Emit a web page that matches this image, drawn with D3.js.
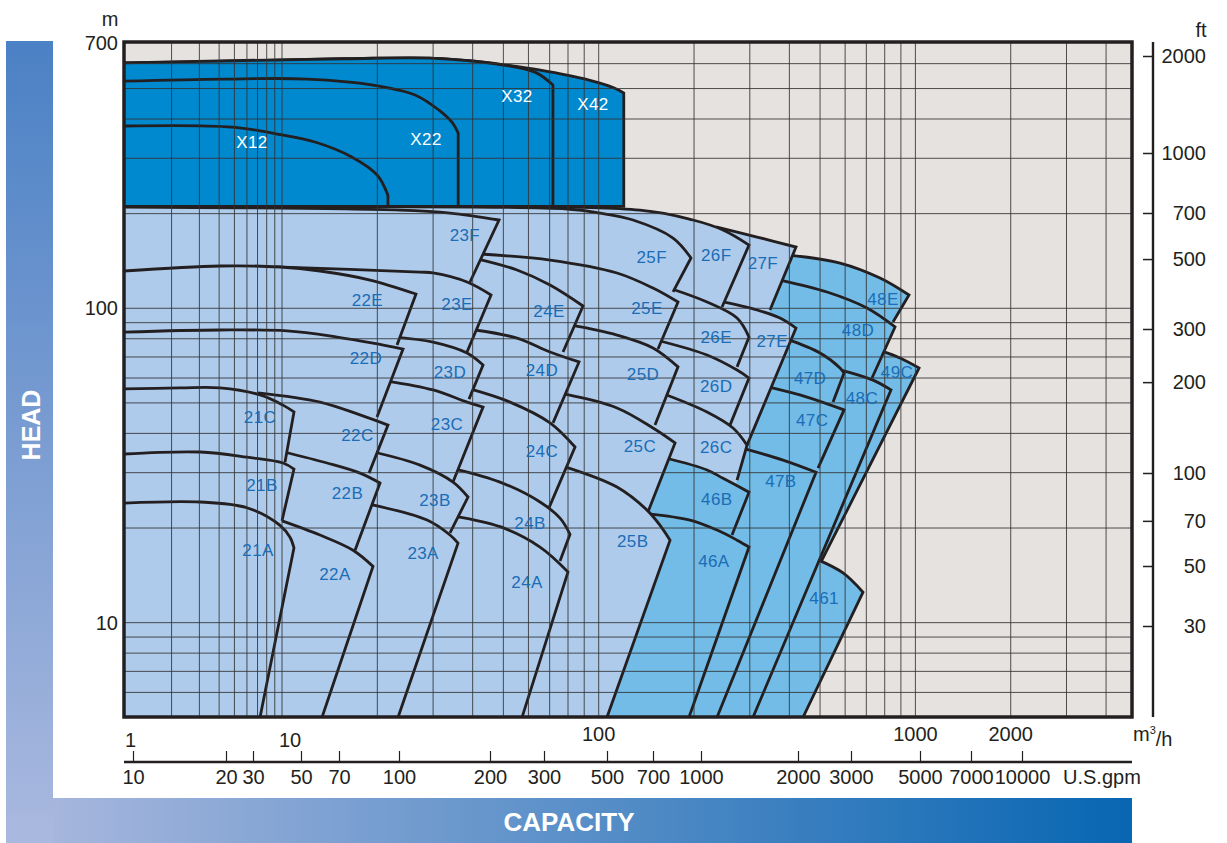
<!DOCTYPE html>
<html>
<head>
<meta charset="utf-8">
<script src="https://cdn.jsdelivr.net/npm/d3@7"></script>
<style>
  body { margin: 0; background: #fff; }
  svg text { font-family: "Liberation Sans", Arial, sans-serif; }
</style>
</head>
<body>
<div id="chart"></div>
<script>
// pump range chart: capacity (m3/h) against head (m), both log
// every region = top curve [Q,H] from left to its corner, then a straight edge to "end"

const seriesX = [
  {id: "X42", top: [[1,603],[5.42,612],[15.7,622],[30.4,624],[40.1,612],[51.0,594],[64.8,573],[93.2,532],[112,502],[120,484]], end: [120,211]},
  {id: "X32", top: [[1,603],[15.7,622],[30.4,624],[47.8,598],[62.9,564],[71.7,513]], end: [71.7,211]},
  {id: "X22", top: [[1,528],[4.30,536],[12.0,536],[19.4,513],[26.3,477],[31.3,427],[34.4,391],[36.0,361]], end: [36.0,211]},
  {id: "X12", top: [[1,380],[4.83,377],[10,356],[12.7,338],[16.6,303],[20.0,265],[21.6,229]], end: [21.6,211]}
];

const fam21 = [
  {id: "21C", top: [[1,55.4],[2.26,55.8],[4.05,55.8],[7.26,53.0],[10.07,49.2],[10.91,46.8]], end: [10.22,32.4]},
  {id: "21B", top: [[1,34.4],[3.03,34.9],[6.00,33.6],[10.07,32.2],[10.91,30.8]], end: [10.0,21.1]},
  {id: "21A", top: [[1,24.0],[3.03,24.2],[6.00,23.2],[9.71,20.4],[10.6,18.7],[10.91,17.3]], end: [7.26,5]}
];
const fam22 = [
  {id: "22E", top: [[1,131.4],[4.05,136.3],[9.71,135.3],[13.18,131.4],[18.97,123.0],[26.49,111.0]], end: [23.08,76.4]},
  {id: "22D", top: [[1,84.0],[4.05,85.3],[10.37,84.7],[14.92,81.0],[19.38,77.5],[24.11,74.2]], end: [19.95,45.1]},
  {id: "22C", top: [[7.05,53.8],[13.18,50.3],[17.64,45.8],[21.61,42.5]], end: [18.83,29.9]},
  {id: "22B", top: [[10.15,34.9],[13.87,32.2],[17.64,29.9],[20.39,27.8]], end: [17.01,17.0]},
  {id: "22A", top: [[9.71,21.2],[13.18,19.0],[16.76,17.0],[19.38,15.1]], end: [13.38,5]}
];
const fam23 = [
  {id: "23F", top: [[1,209.9],[23.59,205.3],[33.92,200.9],[48.44,190.9]], end: [39.24,121.2]},
  {id: "23E", top: [[9.16,135.3],[27.28,130.4],[29.99,129.5],[38.39,121.2],[45.71,110.2]], end: [38.39,72.6]},
  {id: "23D", top: [[22.74,81.0],[29.99,78.1],[38.39,72.1],[43.13,66.0]], end: [38.95,51.4]},
  {id: "23C", top: [[21.46,58.7],[29.99,55.0],[38.39,50.3],[43.13,48.5]], end: [34.67,28.0]},
  {id: "23B", top: [[19.52,34.9],[27.28,31.7],[34.67,28.0],[38.67,25.1]], end: [33.92,19.3]},
  {id: "23A", top: [[18.97,23.8],[28.71,21.2],[33.92,19.0],[35.96,17.9]], end: [23.25,5]}
];
const fam24 = [
  {id: "24E", top: [[41.59,143.4],[55.23,132.4],[70.19,118.6],[89.22,101.7]], end: [77.16,72.6]},
  {id: "24D", top: [[40.69,85.3],[55.23,80.4],[70.19,72.6],[86.67,67.5]], end: [71.74,43.2]},
  {id: "24C", top: [[39.24,55.4],[52.48,50.3],[70.19,43.2],[84.19,36.2]], end: [69.18,22.8]},
  {id: "24B", top: [[35.18,30.8],[48.79,28.0],[65.27,24.2],[75.49,21.5],[81.18,19.1]], end: [75.49,15.7]},
  {id: "24A", top: [[35.18,21.8],[48.79,20.2],[65.27,17.4],[80.01,14.5]], end: [57.27,5]}
];
const fam25 = [
  {id: "25F", top: [[1,209.9],[79.43,206.9],[100.9,200.9],[128.3,190.9],[171.7,167.3],[195.6,144.5]], end: [171.7,112.7]},
  {id: "25E", top: [[42.2,148.8],[70.19,142.4],[114.2,129.5],[148.4,116.0],[178.0,104.7]], end: [153.9,74.2]},
  {id: "25D", top: [[81.18,88.5],[114.2,82.2],[148.4,74.8],[178.0,65.1]], end: [150.6,42.5]},
  {id: "25C", top: [[77.72,53.4],[114.2,48.2],[148.4,41.6],[174.2,37.3]], end: [143.1,22.5]},
  {id: "25B", top: [[78.29,31.3],[114.2,27.0],[142.1,22.8],[156.2,20.4],[168.0,18.3]], end: [106.2,5]}
];
const fam26 = [
  {id: "26F", top: [[1,211.4],[135.0,205.3],[198.5,190.9],[246.9,177.4],[298.3,158.9]], end: [245.2,100.9]},
  {id: "26E", top: [[170.4,115.2],[219.8,104.7],[273.4,93.1],[298.3,81.0]], end: [273.4,65.1]},
  {id: "26D", top: [[156.2,78.7],[219.8,71.0],[273.4,63.6],[298.3,60.0]], end: [259.8,42.5]},
  {id: "26C", top: [[160.8,53.4],[219.8,46.8],[265.5,41.6],[294.0,36.7]], end: [273.4,28.4]}
];
const fam27 = [
  {id: "27F", top: [[234.7,181.4],[316.2,168.5],[419.8,156.6]], end: [347.5,98.74]},
  {id: "27E", top: [[239.9,105.5],[316.2,98.74],[373.7,93.1],[419.8,86.5]], end: [294.0,36.7]}
];
const fam46 = [
  {id: "46B", top: [[163.2,33.4],[219.8,30.6],[246.9,28.8],[298.3,26.0]], end: [263.6,19.0]},
  {id: "46A", top: [[143.1,22.2],[194.2,21.2],[236.4,19.7],[273.4,18.3],[298.3,17.4]], end: [192.8,5]}
];
const fam47 = [
  {id: "47D", top: [[393.2,79.8],[499.9,72.1],[578.1,64.6],[595.2,62.2]], end: [549.5,50.3]},
  {id: "47C", top: [[342.5,56.2],[454.8,52.2],[595.2,47.5]], end: [492.7,31.0]},
  {id: "47B", top: [[289.7,35.7],[381.9,32.9],[485.6,30.1]], end: [236.4,5]}
];
const fam48 = [
  {id: "48E", top: [[399.0,147.7],[578.1,139.3],[773.2,124.8],[954.6,110.2]], end: [849.8,90.4]},
  {id: "48D", top: [[373.7,123.0],[526.0,112.7],[703.5,100.2],[862.5,87.2]], end: [729.5,60.0]},
  {id: "48C", top: [[582.4,63.6],[734.9,59.1],[837.5,55.0]], end: [307.1,5]}
];
const fam49 = [
  {id: "49C", top: [[784.5,73.1],[894.3,69.5],[1027,64.6]], end: [503.5,15.6]}
];
const fam461 = [
  {id: "461", top: [[489.2,15.9],[590.9,14.4],[683.3,12.5]], end: [441.7,5]}
];

// label name, Q (m3/h), H (m)
const labels = [
  ["X12",6.46,338],["X22",28.5,345.5],["X32",55.2,473],["X42",95.9,446],
  ["23F",37.8,171],["22E",18.6,106.2],["23E",35.7,103.2],["24E",69.7,98.0],["25F",147,145.6],["26F",235,147.7],["27F",330,139.3],
  ["25E",142,100.2],["26E",235,81.0],["27E",353,78.7],["48E",790,107],["48D",659,85.3],
  ["22D",18.4,69.5],["23D",33.9,62.7],["24D",66.2,63.6],["25D",138,61.8],["26D",235,56.6],["47D",465,60.0],["48C",678,51.8],["49C",875,62.7],
  ["21C",7.26,45.1],["22C",17.3,39.5],["23C",33.2,42.8],["24C",66.2,35.2],["25C",135,36.5],["26C",235,36.2],["47C",472,44.1],
  ["21B",7.47,27.4],["22B",16.1,25.9],["23B",30.4,24.6],["24B",60.7,20.7],["46B",236,24.7],["47B",376,28.2],
  ["21A",7.05,17.0],["22A",14.7,14.3],["23A",27.9,16.7],["24A",59.4,13.5],["25B",128,18.2],["46A",231,15.7],["461",515,12.0]
];

const gridQ = [2,3,4,5,6,7,8,9,10,20,30,40,50,60,70,80,90,100,200,300,400,500,600,700,800,900,1000,2000,3000,4000];
const gridH = [6,7,8,9,10,20,30,40,50,60,70,80,90,100,200,300,400,500,600];
const headTicks = [700, 100, 10];
const capTicks = [1, 10, 100, 1000, 2000];
const gpmTicks = [10,20,30,50,70,100,200,300,500,700,1000,2000,3000,5000,7000,10000];
const ftTicks = [30,50,70,100,200,300,500,700,1000,2000];

const LIGHT = "#aecbeb", MID = "#72bce7", DARK = "#0089cf", INK = "#231f20";

const svg = d3.select("#chart").append("svg")
    .attr("width", 1227)
    .attr("height", 843);

const plot = {left: 124, right: 1132, top: 42, bottom: 717};

// capacity axis is squeezed between 1 and 10
const x = d3.scaleLog().domain([1, 10, 4830]).range([plot.left, 282, plot.right]);
const y = d3.scaleLog().domain([5, 700]).range([717.3, 42.6]);
// printed secondary scales (hand drawn, not exactly converted)
const xGpm = d3.scaleLog().domain(gpmTicks)
    .range([133,226,253,301,339,399,490,544,607,653,701,798,851,920,971,1022]);
const yFt = d3.scaleLog().domain([30,50,100,300,700,1000,2000]).range([626,566,473,329,213,153,56]);

// side bands
const defs = svg.append("defs");
const gv = defs.append("linearGradient").attr("id", "bandV").attr("x1", 0).attr("y1", 1).attr("x2", 0).attr("y2", 0);
gv.append("stop").attr("offset", 0).attr("stop-color", "#aab9df");
gv.append("stop").attr("offset", 1).attr("stop-color", "#4b81c5");
const gh = defs.append("linearGradient").attr("id", "bandH").attr("x1", 0).attr("y1", 0).attr("x2", 1).attr("y2", 0);
gh.append("stop").attr("offset", 0).attr("stop-color", "#a6b6dd");
gh.append("stop").attr("offset", 1).attr("stop-color", "#0866b2");
defs.append("clipPath").attr("id", "plotClip").append("rect")
    .attr("x", plot.left).attr("y", plot.top)
    .attr("width", plot.right - plot.left).attr("height", plot.bottom - plot.top);

svg.append("rect").attr("x", 6).attr("y", 41).attr("width", 47).attr("height", 802).attr("fill", "url(#bandV)");
svg.append("rect").attr("x", 53).attr("y", 798).attr("width", 1079).attr("height", 45).attr("fill", "url(#bandH)");
svg.append("text").attr("transform", "translate(31,425) rotate(-90)")
    .attr("text-anchor", "middle").attr("dy", "0.36em")
    .attr("fill", "#fff").attr("font-weight", "bold").attr("font-size", 25).text("HEAD");
svg.append("text").attr("x", 569).attr("y", 822)
    .attr("text-anchor", "middle").attr("dy", "0.36em")
    .attr("fill", "#fff").attr("font-weight", "bold").attr("font-size", 26).text("CAPACITY");

// plot background
svg.append("rect").attr("x", plot.left).attr("y", plot.top)
    .attr("width", plot.right - plot.left).attr("height", plot.bottom - plot.top)
    .attr("fill", "#e6e2df");

const body = svg.append("g").attr("clip-path", "url(#plotClip)");

const topCurve = d3.line()
    .x(d => x(d[0]))
    .y(d => y(d[1]))
    .curve(d3.curveCatmullRom.alpha(0.5));

function drawRegion(r, fill, floorH, closed) {
  const pts = r.top;
  const floorY = y(floorH);
  const last = pts[pts.length - 1];
  const c = [x(last[0]), y(last[1])];
  const e = [x(r.end[0]), y(r.end[1])];
  let ext = e;
  if (floorY - e[1] > 0.5) {
    // carry the edge on to the floor so the fill has no gaps under later regions
    const t = (floorY - c[1]) / (e[1] - c[1]);
    ext = [c[0] + (e[0] - c[0]) * t, floorY];
  }
  const x0 = x(1);
  const curve = topCurve(pts);
  const fillD = "M" + x0 + "," + y(pts[0][1]) + "L" + curve.slice(1) +
      "L" + e + "L" + ext + "L" + x0 + "," + floorY + "Z";
  body.append("path").attr("d", fillD).attr("fill", fill);
  let strokeD = curve + "L" + e;
  if (closed) strokeD += "L" + x0 + "," + floorY;
  body.append("path").attr("d", strokeD)
      .attr("fill", "none")
      .attr("stroke", INK)
      .attr("stroke-width", 2.8)
      .attr("stroke-linejoin", "miter");
}

// back to front: the lower family always sits on top of the next one
const drawOrder = [
  [fam49, MID], [fam461, MID], [fam48, MID], [fam47, MID],
  [fam27, LIGHT], [fam26, LIGHT], [fam46, MID], [fam25, LIGHT],
  [fam24, LIGHT], [fam23, LIGHT], [fam22, LIGHT], [fam21, LIGHT]
];
drawOrder.forEach(function(f) {
  f[0].forEach(r => drawRegion(r, f[1], 5, false));
});
seriesX.forEach(r => drawRegion(r, DARK, 211, true));

// grid over the fills
body.append("g").selectAll("line").data(gridQ).enter().append("line")
    .attr("x1", d => x(d)).attr("x2", d => x(d))
    .attr("y1", plot.top).attr("y2", plot.bottom)
    .attr("stroke", "#333").attr("stroke-width", 1).attr("opacity", 0.85);
body.append("g").selectAll("line").data(gridH).enter().append("line")
    .attr("y1", d => y(d)).attr("y2", d => y(d))
    .attr("x1", plot.left).attr("x2", plot.right)
    .attr("stroke", "#333").attr("stroke-width", 1).attr("opacity", 0.85);

// region names
svg.append("g").selectAll("text").data(labels).enter().append("text")
    .attr("x", d => x(d[1]))
    .attr("y", d => y(d[2]))
    .attr("dy", "0.36em")
    .attr("text-anchor", "middle")
    .attr("font-size", 17)
    .attr("letter-spacing", 0.4)
    .attr("fill", d => d[0][0] === "X" ? "#fff" : "#1a6db6")
    .text(d => d[0]);

// frame
svg.append("rect").attr("x", plot.left).attr("y", plot.top)
    .attr("width", plot.right - plot.left).attr("height", plot.bottom - plot.top)
    .attr("fill", "none").attr("stroke", INK).attr("stroke-width", 3.5);

// head labels (m)
svg.append("g").selectAll("text").data(headTicks).enter().append("text")
    .attr("x", 118).attr("y", d => y(d)).attr("dy", "0.36em")
    .attr("text-anchor", "end").attr("font-size", 20).attr("fill", INK)
    .text(d => d);
svg.append("text").attr("x", 110).attr("y", 19).attr("dy", "0.36em")
    .attr("text-anchor", "middle").attr("font-size", 20).attr("fill", INK).text("m");

// capacity labels (m3/h)
svg.append("g").selectAll("text").data(capTicks).enter().append("text")
    .attr("x", d => d < 100 ? x(d) - (d === 1 ? -1 : 3) : x(d))
    .attr("y", d => d < 100 ? 740 : 733.5)
    .attr("dy", "0.36em")
    .attr("text-anchor", d => d < 100 ? "start" : "middle")
    .attr("font-size", 20).attr("fill", INK)
    .text(d => d);
const unit = svg.append("text").attr("x", 1133).attr("y", 733.5).attr("dy", "0.36em")
    .attr("font-size", 20).attr("fill", INK);
unit.append("tspan").text("m");
unit.append("tspan").attr("font-size", 11).attr("dy", "-0.6em").text("3");
unit.append("tspan").attr("dy", "0.6em").text("/h");

// U.S. gpm axis
const gpmAxis = svg.append("g").attr("transform", "translate(0,762)")
    .call(d3.axisBottom(xGpm).tickValues(gpmTicks).tickFormat(d3.format("d"))
        .tickSizeInner(-11).tickSizeOuter(0).tickPadding(8));
gpmAxis.select(".domain").remove();
gpmAxis.selectAll("line").attr("stroke", INK).attr("stroke-width", 1.2);
gpmAxis.selectAll("text").attr("font-size", 20).attr("fill", INK)
    .attr("font-family", "Liberation Sans, Arial, sans-serif");
svg.append("line").attr("x1", plot.left).attr("x2", plot.right)
    .attr("y1", 762).attr("y2", 762).attr("stroke", INK).attr("stroke-width", 2.5);
svg.append("text").attr("x", 1063).attr("y", 777).attr("dy", "0.36em")
    .attr("font-size", 20).attr("fill", INK).text("U.S.gpm");

// ft axis on the right
const ftAxis = svg.append("g").attr("transform", "translate(1153,0)")
    .call(d3.axisRight(yFt).tickValues(ftTicks).tickFormat(d3.format("d"))
        .tickSizeInner(-10).tickSizeOuter(0).tickPadding(10));
ftAxis.select(".domain").remove();
ftAxis.selectAll("line").attr("stroke", INK).attr("stroke-width", 1.5);
ftAxis.selectAll("text").attr("font-size", 20).attr("fill", INK)
    .attr("font-family", "Liberation Sans, Arial, sans-serif")
    .attr("text-anchor", "end").attr("x", 53);
svg.append("line").attr("x1", 1153).attr("x2", 1153)
    .attr("y1", plot.top).attr("y2", plot.bottom)
    .attr("stroke", INK).attr("stroke-width", 2.4);
svg.append("text").attr("x", 1201).attr("y", 30).attr("dy", "0.36em")
    .attr("text-anchor", "middle").attr("font-size", 20).attr("fill", INK).text("ft");
</script>
</body>
</html>
